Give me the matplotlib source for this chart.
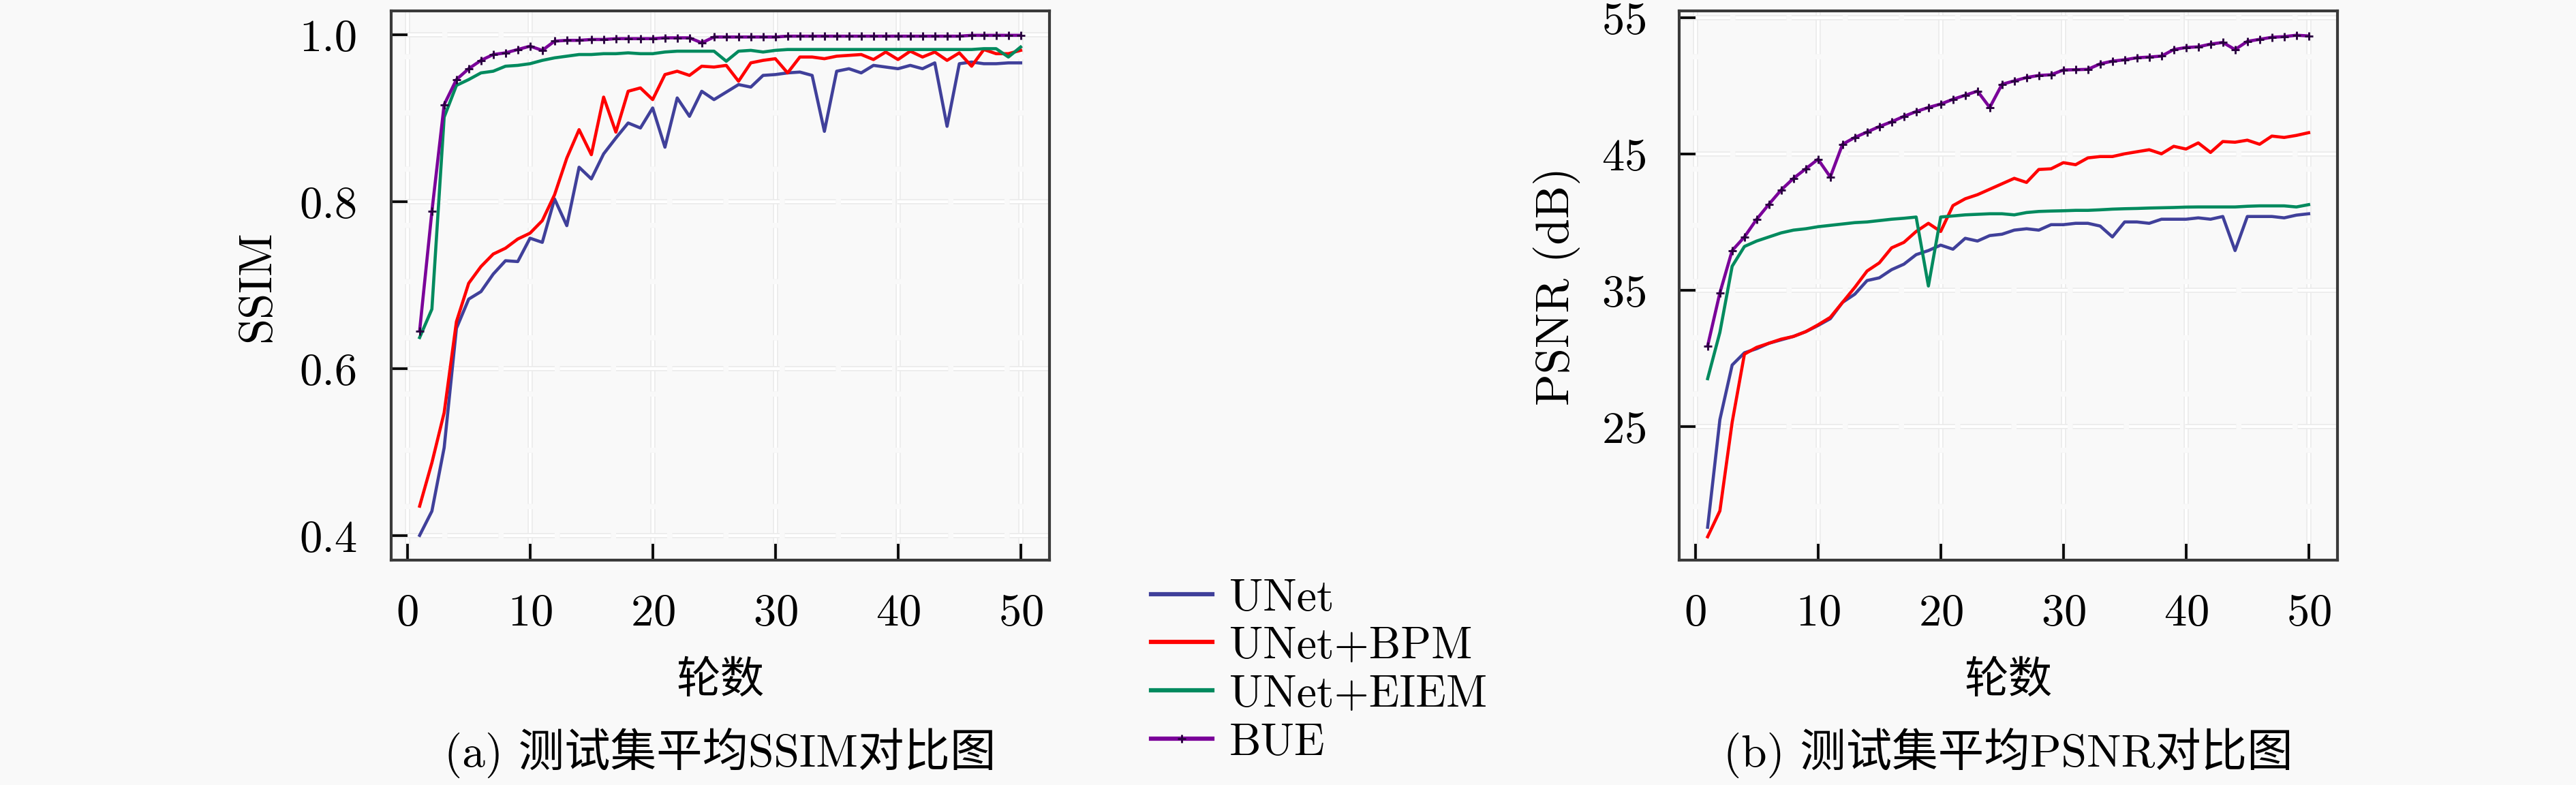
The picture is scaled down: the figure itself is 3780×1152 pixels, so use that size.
import matplotlib
matplotlib.use("Agg")
import matplotlib.pyplot as plt
import matplotlib.patheffects as pe
import numpy as np

plt.rcParams['font.family'] = ['cmr10', 'Noto Sans CJK SC', 'DejaVu Sans']
plt.rcParams['mathtext.fontset'] = 'cm'
plt.rcParams['axes.formatter.use_mathtext'] = True
plt.rcParams['axes.unicode_minus'] = False

epochs = list(range(1, 51))

ssim_unet = [0.400, 0.429, 0.505, 0.648, 0.683, 0.692, 0.713, 0.729, 0.728, 0.756,
             0.751, 0.803, 0.771, 0.841, 0.827, 0.857, 0.876, 0.894, 0.888, 0.912,
             0.865, 0.924, 0.902, 0.932, 0.922, 0.931, 0.940, 0.937, 0.951, 0.952,
             0.954, 0.955, 0.951, 0.884, 0.956, 0.959, 0.954, 0.963, 0.961, 0.959,
             0.963, 0.959, 0.966, 0.890, 0.965, 0.967, 0.965, 0.965, 0.966, 0.966]
ssim_bpm = [0.435, 0.487, 0.547, 0.656, 0.702, 0.722, 0.737, 0.744, 0.755, 0.762,
            0.777, 0.808, 0.852, 0.886, 0.856, 0.925, 0.883, 0.932, 0.936, 0.922,
            0.952, 0.956, 0.951, 0.962, 0.961, 0.963, 0.944, 0.966, 0.969, 0.971,
            0.954, 0.973, 0.973, 0.971, 0.974, 0.975, 0.976, 0.970, 0.979, 0.970,
            0.980, 0.973, 0.979, 0.969, 0.978, 0.962, 0.982, 0.977, 0.977, 0.981]
ssim_eiem = [0.637, 0.671, 0.901, 0.939, 0.946, 0.954, 0.956, 0.962, 0.963, 0.965,
             0.969, 0.972, 0.974, 0.976, 0.976, 0.977, 0.977, 0.978, 0.977, 0.977,
             0.979, 0.980, 0.980, 0.980, 0.980, 0.968, 0.980, 0.981, 0.979, 0.981,
             0.982, 0.982, 0.982, 0.982, 0.982, 0.982, 0.982, 0.982, 0.982, 0.982,
             0.982, 0.982, 0.982, 0.982, 0.982, 0.982, 0.983, 0.983, 0.973, 0.985]
ssim_bue = [0.645, 0.788, 0.916, 0.946, 0.959, 0.969, 0.976, 0.978, 0.982, 0.986,
            0.981, 0.992, 0.993, 0.993, 0.994, 0.994, 0.995, 0.995, 0.995, 0.995,
            0.996, 0.996, 0.996, 0.990, 0.997, 0.997, 0.997, 0.997, 0.997, 0.997,
            0.998, 0.998, 0.998, 0.998, 0.998, 0.998, 0.998, 0.998, 0.998, 0.998,
            0.998, 0.998, 0.998, 0.998, 0.998, 0.999, 0.999, 0.999, 0.999, 0.999]

psnr_unet = [17.6, 25.5, 29.5, 30.4, 30.7, 31.1, 31.35, 31.6, 31.95, 32.4,
             32.9, 34.1, 34.7, 35.7, 35.9, 36.5, 36.9, 37.6, 37.9, 38.3,
             38.0, 38.8, 38.6, 39.0, 39.1, 39.4, 39.5, 39.4, 39.8, 39.8,
             39.9, 39.9, 39.7, 38.9, 40.0, 40.0, 39.9, 40.2, 40.2, 40.2,
             40.3, 40.2, 40.4, 37.9, 40.4, 40.4, 40.4, 40.3, 40.5, 40.6]
psnr_bpm = [16.9, 18.8, 25.3, 30.3, 30.8, 31.1, 31.4, 31.6, 31.95, 32.45,
            33.0, 34.1, 35.2, 36.4, 37.0, 38.1, 38.5, 39.3, 39.9, 39.3,
            41.2, 41.7, 42.0, 42.4, 42.8, 43.2, 42.9, 43.85, 43.9, 44.35,
            44.2, 44.7, 44.8, 44.8, 45.0, 45.15, 45.3, 45.0, 45.55, 45.35,
            45.8, 45.1, 45.9, 45.85, 46.0, 45.7, 46.3, 46.2, 46.35, 46.55]
psnr_eiem = [28.5, 31.9, 36.75, 38.2, 38.6, 38.9, 39.2, 39.4, 39.5, 39.65,
             39.75, 39.85, 39.95, 40.0, 40.1, 40.2, 40.27, 40.36, 35.3, 40.36,
             40.44, 40.52, 40.56, 40.6, 40.6, 40.52, 40.69, 40.77, 40.8, 40.82,
             40.85, 40.85, 40.89, 40.94, 40.97, 40.99, 41.02, 41.04, 41.06, 41.09,
             41.1, 41.1, 41.1, 41.1, 41.15, 41.18, 41.18, 41.18, 41.1, 41.27]
psnr_bue = [30.9, 34.8, 37.9, 38.9, 40.2, 41.3, 42.35, 43.2, 43.9, 44.6,
            43.3, 45.7, 46.2, 46.6, 47.0, 47.35, 47.75, 48.1, 48.4, 48.65,
            49.0, 49.3, 49.6, 48.4, 50.1, 50.35, 50.6, 50.75, 50.8, 51.15,
            51.17, 51.2, 51.6, 51.8, 51.9, 52.05, 52.1, 52.17, 52.65, 52.8,
            52.85, 53.05, 53.17, 52.65, 53.25, 53.4, 53.55, 53.6, 53.7, 53.65]

labels = ['UNet', 'UNet+BPM', 'UNet+EIEM', 'BUE']
colors = ['#40409a', '#ff0000', '#008a5e', '#7a0099']

ssim_ticks = [0.4, 0.6, 0.8, 1.0]
ssim_ticklabels = ['0.4', '0.6', '0.8', '1.0']
psnr_ticks = [25, 35, 45, 55]
x_ticks = [0, 10, 20, 30, 40, 50]

bg = '#f9f9f9'
fig = plt.figure(figsize=(12.6, 3.8433), dpi=300, facecolor=bg)
W, H = 3780, 1153
ax1 = fig.add_axes([574 / W, (H - 822.7) / H, 966 / W, 805.4 / H])
ax2 = fig.add_axes([2464 / W, (H - 822.7) / H, 966 / W, 805.4 / H])


def style(ax, series, yticks, ylim, ylabel, ylabx, yticklabels=None):
    ax.set_facecolor(bg)
    handles = []
    for i, (vals, lab, col) in enumerate(zip(series, labels, colors)):
        if lab == 'BUE':
            h, = ax.plot(epochs, vals, color=col, lw=1.1, marker='+', ms=3.0,
                         mew=0.7, mec='#2a0040', label=lab, zorder=5)
        else:
            h, = ax.plot(epochs, vals, color=col, lw=1.1, label=lab, zorder=3 + i * 0.1)
        handles.append(h)
    ax.set_xlim(-1.32, 52.35)
    ax.set_ylim(*ylim)
    ax.set_xticks(x_ticks)
    ax.set_yticks(yticks)
    if yticklabels is not None:
        ax.set_yticklabels(yticklabels)
    ax.tick_params(direction='in', length=5.8, width=0.9, color='black',
                   labelsize=16, pad=11.8, top=False, right=False)
    for s in ax.spines.values():
        s.set_color('#3a3a3a')
        s.set_linewidth(1.0)
    ax.grid(True, color='white', lw=1.0, linestyle=(0, (18, 1.8)), zorder=0)
    for gl in ax.get_xgridlines() + ax.get_ygridlines():
        gl.set_path_effects([pe.Stroke(linewidth=1.8, foreground='#ebebeb'), pe.Normal()])
    ax.set_axisbelow(True)
    ax.set_ylabel(ylabel, fontsize=16.5)
    ax.yaxis.set_label_coords(ylabx, 0.5)
    return handles


handles = style(ax1, [ssim_unet, ssim_bpm, ssim_eiem, ssim_bue], ssim_ticks,
                (0.3706, 1.028), 'SSIM', -0.172, ssim_ticklabels)
style(ax2, [psnr_unet, psnr_bpm, psnr_eiem, psnr_bue], psnr_ticks,
      (15.2, 55.47), 'PSNR (dB)', -0.150)

fig.text(1057 / W, 1 - 1000 / H, '轮数', ha='center', va='center', fontsize=15.5)
fig.text(2947 / W, 1 - 1000 / H, '轮数', ha='center', va='center', fontsize=15.5)
fig.text(1057 / W, 1 - 1105 / H, '(a) 测试集平均SSIM对比图', ha='center', va='center', fontsize=16.2)
fig.text(2947 / W, 1 - 1105 / H, '(b) 测试集平均PSNR对比图', ha='center', va='center', fontsize=16.2)

leg = fig.legend(handles=handles, labels=labels, loc='center left',
                 bbox_to_anchor=(1689 / W, 1 - 985 / H), frameon=False, fontsize=15.8,
                 handlelength=1.37, handletextpad=0.37, labelspacing=0.17,
                 borderpad=0, borderaxespad=0, markerscale=1.0)
for ln in leg.get_lines():
    ln.set_linewidth(1.5)

fig.savefig('out.png', dpi=300, facecolor=bg)
